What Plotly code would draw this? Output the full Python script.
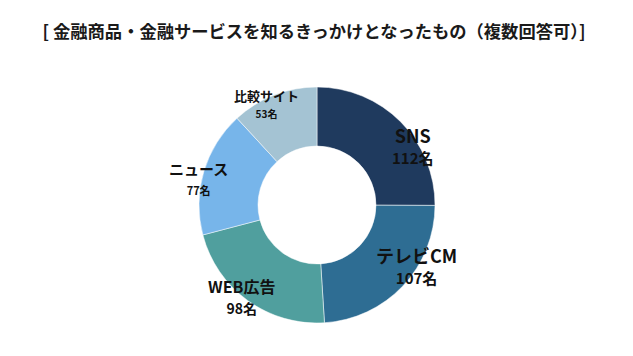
import math
import plotly.graph_objects as go

labels = ["SNS", "テレビCM", "WEB広告", "ニュース", "比較サイト"]
values = [112, 107, 98, 77, 53]
unit = "名"
title = "[ 金融商品・金融サービスを知るきっかけとなったもの（複数回答可）]"

colors = ["#1f3a5e", "#2e6d93", "#509f9e", "#77b5ea", "#a4c3d3"]
name_sizes = [18, 18, 16, 15, 13]
value_sizes = [15, 15, 14, 11, 10]
line_gaps = [21, 21, 21, 20, 17]
label_nudge = [(15, 21), (16, -18), (-8, -2), (-9, 5), (-9, 5)]  # px nudges off mid-angle

W, H = 633, 356
OFF = 8  # page body margin
cx, cy, R = 317 - OFF, 205 - OFF, 118  # pixel center & radius of pie within the figure

fig = go.Figure(go.Pie(
    labels=labels, values=values, hole=0.5, sort=False, direction="clockwise",
    rotation=0, marker=dict(colors=colors, line=dict(color="white", width=0.5)),
    textinfo="none", hoverinfo="label+value",
    domain=dict(x=[(cx - R) / W, (cx + R) / W], y=[(H - cy - R) / H, (H - cy + R) / H]),
))

total = sum(values)
cum = 0
for lab, v, ns, vs, gap, (nx, ny) in zip(labels, values, name_sizes, value_sizes, line_gaps, label_nudge):
    mid = (cum + v / 2) / total * 2 * math.pi
    cum += v
    r = R * 0.97
    px = cx + r * math.sin(mid) + nx
    py = cy - r * math.cos(mid) + ny
    fig.add_annotation(
        x=px / W, y=(H - py) / H, xref="paper", yref="paper",
        xanchor="center", yanchor="middle",
        text=f"<span style='font-size:{ns}px'>{lab}</span><br><span style='font-size:{vs}px'>{v}{unit}</span>",
        showarrow=False, align="center",
        font=dict(family="Noto Sans CJK JP", size=gap / 1.3, color="#111111", weight="bold"),
    )

fig.update_layout(
    width=W, height=H, margin=dict(l=0, r=0, t=0, b=0),
    paper_bgcolor="white", plot_bgcolor="white", showlegend=False,
    title=dict(text=title, x=(314 - OFF) / W, xanchor="center", y=1 - (32 - OFF) / H, yanchor="middle",
               font=dict(family="Noto Sans CJK JP", size=17.3, color="#1a1a1a", weight="bold")),
)

fig.write_html("out.html")
